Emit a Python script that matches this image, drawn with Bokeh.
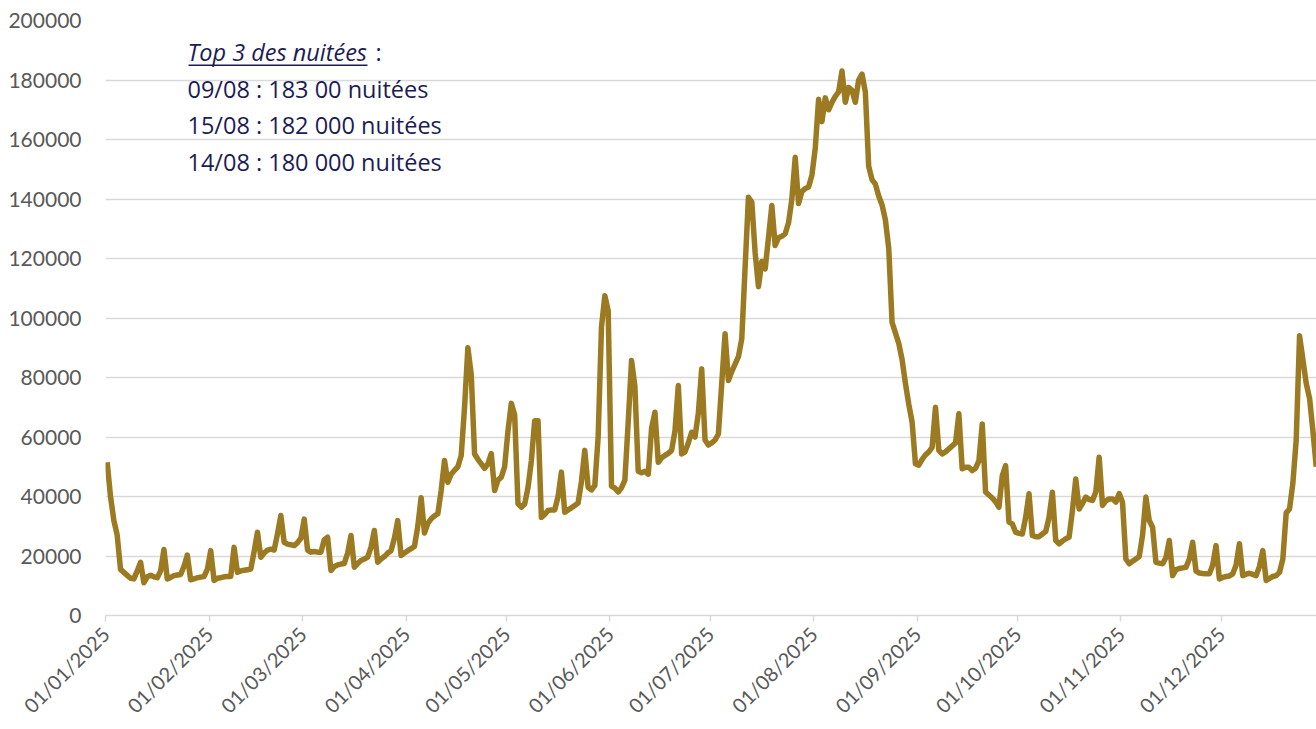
import math
import pandas as pd
from bokeh.plotting import figure
from bokeh.models import (FixedTicker, Label, Range1d, ColumnDataSource,
                          DatetimeTickFormatter, NumeralTickFormatter, BoxAnnotation)
from bokeh.embed import file_html
from bokeh.resources import INLINE

# ---- data: nuitées per day, 2025 ----
jan = [51500, 40000, 32000, 27000, 15500, 14500, 13500, 12500, 12300, 15000, 17900,
       11000, 13000, 13500, 13000, 12700, 15000, 22200, 12300, 12800, 13400, 13600,
       13800, 16500, 20300, 12000, 12300, 12700, 12900, 13100, 15500]
feb = [21800, 11800, 12500, 12700, 13000, 13100, 13100, 22900, 14500, 15000, 15200,
       15400, 15600, 21500, 28000, 19600, 21000, 22000, 22300, 22000, 27500, 33600,
       24600, 24000, 23800, 23500, 24500, 26000]
mar = [32400, 22000, 21300, 21500, 21300, 21300, 25500, 26300, 15100, 16500, 17000,
       17300, 17500, 21000, 26900, 16200, 17500, 18500, 19000, 19600, 23000, 28600,
       17900, 19000, 19800, 21000, 21800, 26000, 31900, 20200, 21000]
apr = [21800, 22500, 23200, 30000, 39600, 27700, 31000, 32500, 33500, 34200, 42000,
       52100, 44800, 47500, 48800, 50000, 53800, 70000, 90000, 81000, 54300, 52500,
       51000, 49500, 51000, 54400, 42000, 45500, 46500, 50000]
may = [62000, 71300, 67500, 37600, 36400, 37500, 43000, 52000, 65500, 65500, 33000,
       34000, 35300, 35500, 35500, 40000, 48200, 34700, 35500, 36200, 37000, 37800,
       45000, 55500, 43100, 42200, 43700, 60000, 97000, 107500, 102500]
jun = [43500, 42800, 41500, 43000, 45500, 65000, 85700, 77000, 48500, 48000, 48500,
       47500, 63000, 68300, 51500, 53000, 53800, 54500, 55500, 62000, 77300, 54300,
       55000, 58000, 61600, 60000, 68000, 82900, 59000, 57300]
jul = [58000, 59000, 61000, 78000, 94700, 79000, 82000, 84500, 87000, 93000, 117000,
       140600, 139000, 122000, 110500, 119000, 116500, 127000, 137800, 124400, 127000,
       127500, 128300, 132000, 140000, 154000, 138500, 142500, 143500, 144000, 148000]
aug = [157000, 173500, 166000, 174000, 170000, 172500, 174500, 176000, 183000, 172500,
       177500, 176500, 172500, 180000, 182000, 176000, 151000, 146500, 145000, 141000,
       138000, 133000, 123500, 98500, 95000, 91500, 86000, 78000, 71000, 65000, 51000]
sep = [50500, 52500, 54000, 55000, 56500, 70000, 55500, 54300, 55000, 56000, 57000,
       58000, 67800, 49300, 49800, 49800, 48700, 49500, 52000, 64400, 41500, 40500,
       39500, 38200, 36400, 47000, 50400, 31400, 30800, 28000]
oct_ = [27600, 27400, 33000, 40900, 26900, 26500, 26500, 27400, 28200, 33000, 41400,
        25200, 24100, 25000, 25800, 26300, 35300, 45900, 35800, 37600, 39800, 39000,
        38700, 41500, 53200, 37000, 38500, 39200, 39200, 38100, 41000]
nov = [38000, 19000, 17400, 18200, 19000, 19800, 27000, 39800, 31900, 29700, 17900,
       17600, 17400, 19500, 25200, 13400, 15400, 15800, 16000, 16200, 19000, 24600,
       14900, 14300, 14100, 14000, 14000, 17000, 23500, 12300]
dec = [12800, 13100, 13300, 14000, 17000, 24100, 13400, 13900, 14200, 13800, 13400,
       16500, 21800, 11800, 12500, 13100, 13400, 14500, 19000, 34500, 35800, 44500,
       59000, 94000, 86000, 78000, 73000, 62000, 50000]

y_ticks = [0, 20000, 40000, 60000, 80000, 100000, 120000, 140000, 160000, 180000, 200000]
x_tick_dates = ["2025-01-01", "2025-02-01", "2025-03-01", "2025-04-01", "2025-05-01",
                "2025-06-01", "2025-07-01", "2025-08-01", "2025-09-01", "2025-10-01",
                "2025-11-01", "2025-12-01"]
note_title = "Top 3 des nuitées"
note_lines = ["09/08 : 183 00 nuitées", "15/08 : 182 000 nuitées", "14/08 : 180 000 nuitées"]

values = jan + feb + mar + apr + may + jun + jul + aug + sep + oct_ + nov + dec
dates = pd.date_range("2025-01-01", periods=len(values), freq="D") + pd.Timedelta(hours=12)
src = ColumnDataSource(dict(x=dates, y=values))

DAY = 86400000.0
t0 = pd.Timestamp("2025-01-01").value / 1e6
PX_PER_DAY = 3.34
W, H = 1316, 729
LEFT, TOP, BOTTOM = 105, 20, 114
frame_w = W - LEFT

p = figure(width=W, height=H, x_axis_type="datetime", output_backend="svg",
           toolbar_location=None,
           x_range=Range1d(t0, t0 + frame_w / PX_PER_DAY * DAY),
           y_range=Range1d(0, 200000),
           min_border_left=LEFT, min_border_right=0, min_border_top=TOP,
           min_border_bottom=BOTTOM)
p.outline_line_color = None
p.background_fill_color = "white"
p.border_fill_color = "white"

p.line("x", "y", source=src, line_color="#9b7a22", line_width=5.5, line_join="round")

# axes
font = "Lato"
xt = [pd.Timestamp(d).value / 1e6 for d in x_tick_dates]
p.xaxis.ticker = FixedTicker(ticks=xt)
fmt = "%d/%m/%Y"
p.xaxis.formatter = DatetimeTickFormatter(milliseconds=fmt, seconds=fmt, minsec=fmt,
                                          minutes=fmt, hourmin=fmt, hours=fmt, days=fmt,
                                          months=fmt, years=fmt)
p.xaxis.major_label_orientation = math.pi / 4
p.xaxis.axis_line_color = "#d9d9d9"
p.xaxis.axis_line_width = 1.5
p.xaxis.major_tick_line_color = "#d9d9d9"
p.xaxis.major_tick_line_width = 1.5
p.xaxis.major_tick_out = 6
p.xaxis.major_tick_in = 0
p.xaxis.minor_tick_line_color = None
p.xaxis.major_label_text_font = font
p.xaxis.major_label_text_font_size = "20px"
p.xaxis.major_label_text_color = "#595959"
p.xaxis.major_label_standoff = 9

p.yaxis.ticker = FixedTicker(ticks=y_ticks)
p.yaxis.formatter = NumeralTickFormatter(format="0")
p.yaxis.axis_line_color = None
p.yaxis.major_tick_line_color = None
p.yaxis.minor_tick_line_color = None
p.yaxis.major_label_text_font = font
p.yaxis.major_label_text_font_size = "21px"
p.yaxis.major_label_text_color = "#595959"
p.yaxis.major_label_standoff = 18

p.xgrid.grid_line_color = None
p.ygrid.grid_line_color = "#d9d9d9"
p.ygrid.grid_line_width = 1.5

# annotation text
def px_to_x(px):
    return t0 + (px - 105) / PX_PER_DAY * DAY

def py_to_y(py):
    return (615 - py) * 200000 / 595

txt_color = "#1c1c54"
nfont = "Open Sans"
nsize = "23.5px"
SHIFT = 10  # Label baseline correction
p.add_layout(Label(x=px_to_x(187), y=py_to_y(61.7 - SHIFT), text=note_title, text_font=nfont,
                   text_font_style="italic", text_font_size=nsize, text_color=txt_color,
                   text_baseline="alphabetic"))
p.add_layout(Label(x=px_to_x(375), y=py_to_y(61.7 - SHIFT), text=":", text_font=nfont,
                   text_font_size=nsize, text_color=txt_color, text_baseline="alphabetic"))
p.add_layout(BoxAnnotation(left=px_to_x(188), right=px_to_x(367),
                           bottom=py_to_y(65.5), top=py_to_y(64),
                           fill_color=txt_color, fill_alpha=1, line_color=None))
for i, t in enumerate(note_lines):
    p.add_layout(Label(x=px_to_x(187), y=py_to_y(98.3 - SHIFT + 36.4 * i), text=t,
                       text_font=nfont, text_font_size=nsize, text_color=txt_color,
                       text_baseline="alphabetic"))

open("out.html", "w").write(file_html(p, INLINE))
